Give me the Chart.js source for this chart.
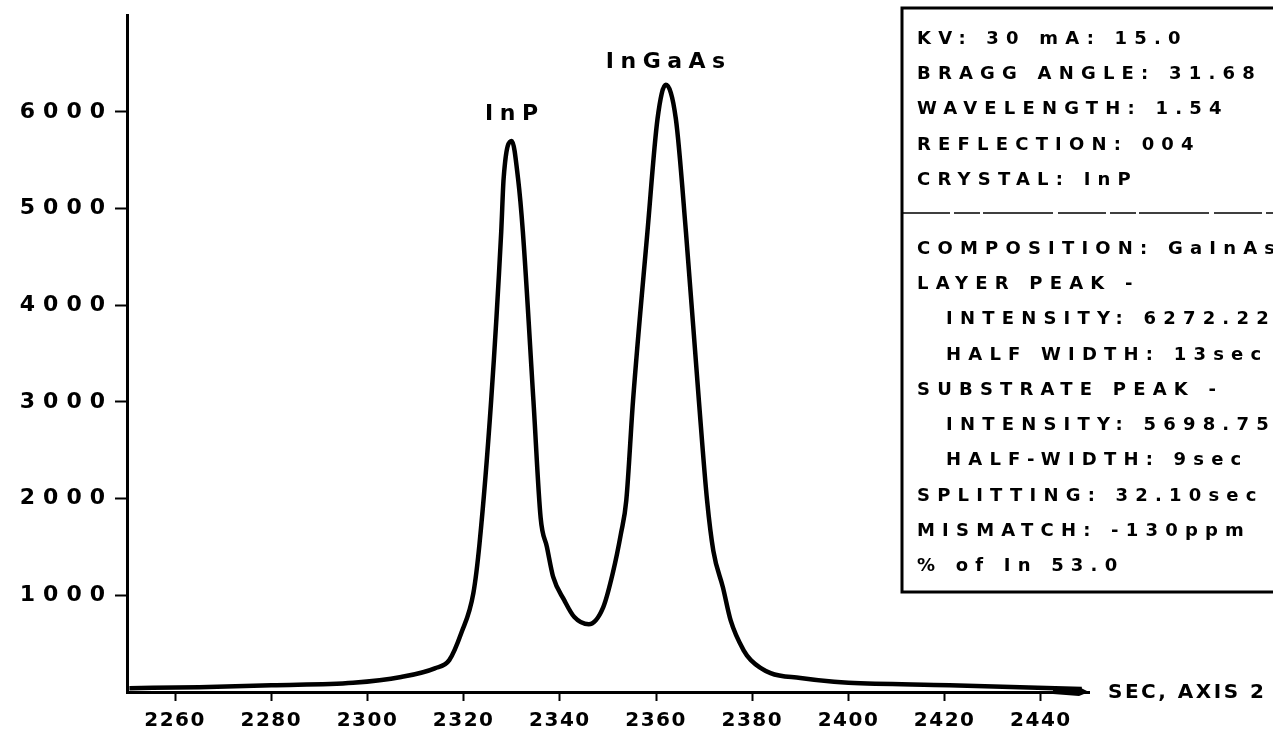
<!DOCTYPE html>
<html>
<head>
<meta charset="utf-8">
<script src="https://cdn.jsdelivr.net/npm/chart.js"></script>
<style>
  body { margin: 0; background: #fff; }
  #wrap { width: 1273px; height: 736px; position: relative; }
</style>
</head>
<body>
<div id="wrap"><canvas id="rocking"></canvas></div>
<script>
// rocking curve, angle in sec vs intensity
const secValues = [2250.5, 2265, 2280, 2297, 2307, 2314, 2317, 2319.5, 2322, 2323.3, 2325.7, 2327.8, 2328.3, 2330,
    2331.3, 2332.3, 2334.5, 2336.0, 2337.3, 2338.6, 2340.9, 2343, 2346, 2349, 2351, 2352.7, 2353.8, 2355.2,
    2358.2, 2360.3, 2362, 2364.1, 2366.2, 2368.9, 2370.6, 2371.9, 2373.9, 2375.5, 2378.2, 2379.7, 2383.8,
    2390, 2397, 2400, 2421, 2448.5];
const intensityValues = [40, 50, 70, 95, 155, 245, 330, 610, 1020, 1540, 3010, 4760, 5310, 5700,
    5310, 4760, 3010, 1800, 1500, 1190, 950, 775, 700, 875, 1230, 1640, 1980, 3010,
    4760, 5930, 6280, 5930, 4760, 3010, 1980, 1460, 1080, 740, 430, 330, 195,
    145, 105, 95, 70, 30];

const xTicks = [2260, 2280, 2300, 2320, 2340, 2360, 2380, 2400, 2420, 2440];
const yTicks = [1000, 2000, 3000, 4000, 5000, 6000];

const peakLabels = ['InP', 'InGaAs'];
const peakSec = [2330, 2362];
const peakIntensity = [5700, 6280];

const boxTop = ['KV: 30 mA: 15.0', 'BRAGG ANGLE: 31.68', 'WAVELENGTH: 1.54', 'REFLECTION: 004', 'CRYSTAL: InP'];
const boxBottom = ['COMPOSITION: GaInAs', 'LAYER PEAK -', '  INTENSITY: 6272.22', '  HALF WIDTH: 13sec',
    'SUBSTRATE PEAK -', '  INTENSITY: 5698.75', '  HALF-WIDTH: 9sec', 'SPLITTING: 32.10sec',
    'MISMATCH: -130ppm', '% of In 53.0'];

const points = secValues.map((s, i) => ({ x: s, y: intensityValues[i] }));

// letter spacing: y labels drawn before the curve, x labels after it
const spacing = {
    id: 'spacing',
    beforeDraw(chart) { chart.ctx.letterSpacing = '8px'; },
    beforeDatasetsDraw(chart) { chart.ctx.letterSpacing = '0px'; },
    afterDatasetsDraw(chart) { chart.ctx.letterSpacing = '1.5px'; },
    afterDraw(chart) {
        const ctx = chart.ctx;
        const xs = chart.scales.x, ys = chart.scales.y;
        ctx.save();
        ctx.fillStyle = '#000';
        ctx.strokeStyle = '#000';

        // arrow head at end of axis
        const ax = xs.right, ay = ys.bottom;
        ctx.beginPath();
        ctx.moveTo(ax - 36, ay - 2);
        ctx.lineTo(ax - 10, ay - 5);
        ctx.lineTo(ax, ay);
        ctx.lineTo(ax - 10, ay + 4);
        ctx.lineTo(ax - 36, ay + 2);
        ctx.closePath();
        ctx.fill();

        ctx.letterSpacing = '2.5px';
        ctx.font = 'bold 20px "DejaVu Sans"';
        ctx.textAlign = 'left';
        ctx.textBaseline = 'middle';
        ctx.fillText('SEC, AXIS 2', ax + 19, ay + 1);

        // peak labels
        ctx.letterSpacing = '6.5px';
        ctx.font = 'bold 22px "DejaVu Sans"';
        ctx.textAlign = 'center';
        const lift = [27, 23];
        peakLabels.forEach((t, i) => {
            ctx.fillText(t, xs.getPixelForValue(peakSec[i]) + 3, ys.getPixelForValue(peakIntensity[i]) - lift[i]);
        });

        // info box
        ctx.lineWidth = 3;
        ctx.beginPath();
        ctx.moveTo(1280, 8);
        ctx.lineTo(902, 8);
        ctx.lineTo(902, 592);
        ctx.lineTo(1280, 592);
        ctx.stroke();
        ctx.lineWidth = 1.3;
        ctx.setLineDash([48, 4, 26, 3, 70, 5]);
        ctx.beginPath();
        ctx.moveTo(902, 213);
        ctx.lineTo(1280, 213);
        ctx.stroke();
        ctx.setLineDash([]);

        ctx.font = 'bold 18px "DejaVu Sans"';
        ctx.letterSpacing = '7.2px';
        ctx.textAlign = 'left';
        const lineGap = 35.3;
        boxTop.forEach((t, i) => {
            const indent = t.startsWith('  ') ? 29 : 0;
            ctx.fillText(t.trim(), 917 + indent, 39 + i * lineGap);
        });
        boxBottom.forEach((t, i) => {
            const indent = t.startsWith('  ') ? 29 : 0;
            ctx.fillText(t.trim(), 917 + indent, 249 + i * lineGap);
        });
        ctx.restore();
    }
};

new Chart(document.getElementById('rocking'), {
    type: 'line',
    data: {
        datasets: [{
            data: points,
            borderColor: '#000',
            borderWidth: 4.5,
            pointRadius: 0,
            fill: false,
            cubicInterpolationMode: 'monotone'
        }]
    },
    options: {
        responsive: true,
        maintainAspectRatio: false,
        animation: false,
        layout: { padding: { top: 13, right: 184, left: 0, bottom: 0 } },
        plugins: {
            legend: { display: false },
            tooltip: { enabled: false }
        },
        scales: {
            x: {
                type: 'linear',
                min: 2250,
                max: 2450,
                afterBuildTicks: (scale) => { scale.ticks = xTicks.map(v => ({ value: v })); },
                afterFit: (scale) => { scale.height = 44; },
                border: { color: '#000', width: 3, z: 1 },
                grid: { drawOnChartArea: false, tickLength: 9, tickWidth: 2, tickColor: '#000' },
                ticks: {
                    z: 1,
                    color: '#000',
                    maxRotation: 0,
                    padding: 8,
                    callback: (v) => String(v),
                    font: { family: 'DejaVu Sans', size: 20, weight: 'bold' }
                }
            },
            y: {
                min: 0,
                max: 7000,
                afterBuildTicks: (scale) => { scale.ticks = yTicks.map(v => ({ value: v })); },
                afterFit: (scale) => { scale.width = 127; },
                border: { color: '#000', width: 3 },
                grid: { drawOnChartArea: false, tickLength: 12, tickWidth: 2, tickColor: '#000' },
                ticks: {
                    color: '#000',
                    padding: 2,
                    callback: (v) => String(v),
                    font: { family: 'DejaVu Sans', size: 22, weight: 'bold' }
                }
            }
        }
    },
    plugins: [spacing]
});
</script>
</body>
</html>
